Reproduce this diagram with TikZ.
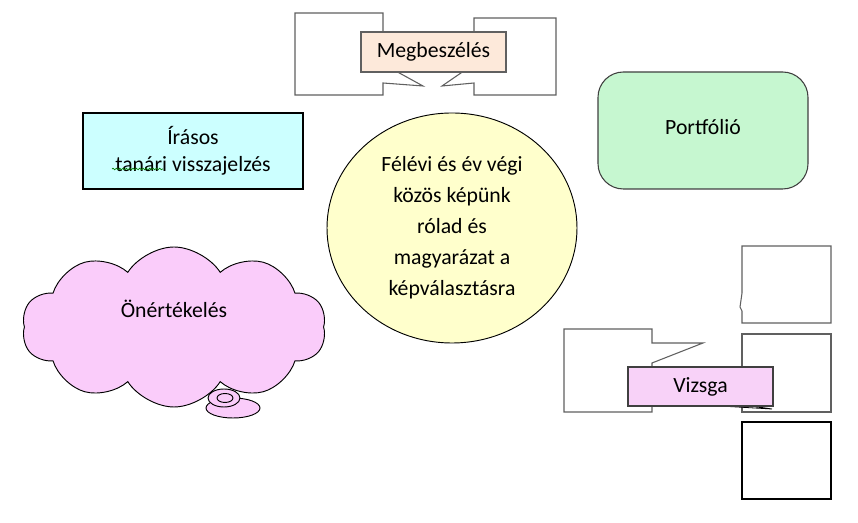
\documentclass[tikz,border=0pt]{standalone}
\usepackage{fontspec}
\setmainfont{Carlito}
\usepackage{tikz}
\usetikzlibrary{shapes.geometric,shapes.symbols,decorations.pathmorphing}
\definecolor{ferskenfarge}{HTML}{FDE9DA}
\definecolor{cyanfarge}{HTML}{CCFFFF}
\definecolor{gronnfarge}{HTML}{C6F7D0}
\definecolor{gulfarge}{HTML}{FFFFCC}
\definecolor{rosafarge}{HTML}{FACCFA}
\definecolor{lillafarge}{HTML}{F8D2F8}
\definecolor{kantgra}{HTML}{606060}
\tikzset{
    %Define style for boxes
    punktrect/.style={
           rectangle,
           draw=kantgra, line width=0.8pt,
           align=center,
           text centered},
    %Define style for the white callouts
    hvitrect/.style={
           draw=kantgra, line width=0.8pt,
           fill=white},
    sirkel/.style={
           ellipse,
           draw=black, line width=0.7pt,
           fill=gulfarge,
           inner sep=0pt,
           minimum width=187.5pt,
           minimum height=172.5pt,
           align=center},
    sky/.style={
           cloud, cloud puffs=10, cloud puff arc=115, aspect=2,
           draw=black, line width=0.7pt,
           fill=rosafarge,
           minimum width=228pt,
           minimum height=120pt}
}
\begin{document}
\begin{tikzpicture}[x=0.75pt,y=-0.75pt,font=\fontsize{16.3}{22.5}\selectfont]
\useasboundingbox (0,0) rectangle (858,523);
% white callouts
\draw[hvitrect] (295,13) -- (383,13) -- (383,64) -- (423,86) -- (383,83)
  -- (383,95) -- (295,95) -- cycle;
\draw[hvitrect] (474,18) -- (556,18) -- (556,95) -- (474,95) -- (474,83)
  -- (442,86) -- (474,64) -- cycle;
\draw[hvitrect] (564,329) -- (652,329) -- (652,343) -- (703,343) -- (652,363)
  -- (652,412) -- (564,412) -- cycle;
\draw[hvitrect] (742,246) -- (831,246) -- (831,323) -- (742,323) -- (742,311)
  -- (740,307) -- (742,293) -- cycle;
\draw[hvitrect] (742,334) rectangle (831,412);
\draw[line width=0.6pt] (720,406) -- (772,409) -- (745,405);
\draw[hvitrect, draw=black] (742,422) rectangle (831,499);
% nodes
\node[punktrect, fill=ferskenfarge, minimum width=108.75pt, minimum height=30pt]
  (megb) at (433.5,52) {Megbeszélés};
\node[punktrect, draw=black, fill=cyanfarge, minimum width=165pt, minimum height=57pt,
  font=\fontsize{16.3}{20.3}\selectfont]
  (irasos) at (193,151) {Írásos\\tanári visszajelzés};
\node[punktrect, draw=black!75, fill=gronnfarge, rounded corners=19pt,
  minimum width=157.5pt, minimum height=87.75pt, text depth=6pt]
  (portf) at (703,130.5) {Portfólió};
\node[sirkel, font=\fontsize{16.3}{23.3}\selectfont] (kep) at (452,228)
  {Félévi és év végi\\közös képünk\\rólad és\\magyarázat a\\képválasztásra};
\node[sky, label={[yshift=13.5pt]center:Önértékelés}] (onert) at (174,327) {};
\draw[black, line width=0.7pt, fill=rosafarge] (233,408) ellipse (27 and 10);
\draw[black, line width=0.7pt, fill=rosafarge] (224,398) ellipse (16 and 9);
\draw[black, line width=0.7pt, fill=rosafarge] (225,398) ellipse (8 and 4.5);
\node[punktrect, draw=black!75, fill=lillafarge, minimum width=108.75pt,
  minimum height=29.25pt] (vizsga) at (700.5,386.5) {Vizsga};
% spelling mark
\draw[green!50!black, line width=0.5pt, decorate,
  decoration={snake, amplitude=0.6pt, segment length=2.5pt}]
  (112,169) -- (163,169);
\end{tikzpicture}
\end{document}
